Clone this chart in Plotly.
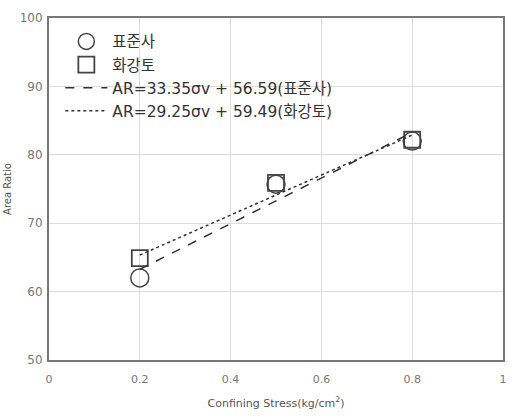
import plotly.graph_objects as go

x_pts = [0.2, 0.5, 0.8]
sand_std = [62.0, 75.7, 82.0]      # 표준사
granite_soil = [64.9, 75.9, 82.2]  # 화강토

fit_x = [0.2, 0.8]
fit_std = [63.26, 83.27]     # AR=33.35σv + 56.59
fit_gran = [65.34, 82.89]    # AR=29.25σv + 59.49

x_ticks = [0, 0.2, 0.4, 0.6, 0.8, 1]
x_tick_text = ["0", "0.2", "0.4", "0.6", "0.8", "1"]
y_ticks = [50, 60, 70, 80, 90, 100]

font_fam = "DejaVu Sans, Noto Sans CJK KR, sans-serif"

fig = go.Figure()
fig.add_trace(go.Scatter(x=x_pts, y=sand_std, mode="markers", name="표준사",
                         marker=dict(symbol="circle-open", size=18, color="#444",
                                     line=dict(width=1.5, color="#444"))))
fig.add_trace(go.Scatter(x=x_pts, y=granite_soil, mode="markers", name="화강토",
                         marker=dict(symbol="square-open", size=16, color="#444",
                                     line=dict(width=1.8, color="#444"))))
fig.add_trace(go.Scatter(x=fit_x, y=fit_std, mode="lines",
                         name="AR=33.35σv + 56.59(표준사)",
                         line=dict(dash="dash", color="#333", width=1.5)))
fig.add_trace(go.Scatter(x=fit_x, y=fit_gran, mode="lines",
                         name="AR=29.25σv + 59.49(화강토)",
                         line=dict(dash="dot", color="#333", width=1.5)))

fig.update_layout(
    width=514, height=419,
    margin=dict(l=48, r=7, t=18, b=59),
    paper_bgcolor="white", plot_bgcolor="white",
    font=dict(family=font_fam, color="#555", size=11),
    showlegend=True,
    legend=dict(x=0.025, y=0.98, xanchor="left", yanchor="top",
                bgcolor="rgba(0,0,0,0)", font=dict(size=15.5, color="#333"),
                itemwidth=42, tracegroupgap=0),
    xaxis=dict(range=[0, 1], tickvals=x_ticks, ticktext=x_tick_text,
               showgrid=True, gridcolor="#ddd", gridwidth=1,
               showline=True, linecolor="#777", linewidth=2, mirror=True,
               zeroline=False, ticks="", ticklabelstandoff=8,
               tickfont=dict(size=11, color="#777"),
               title=dict(text="Confining Stress(kg/cm<sup>2</sup>)", standoff=14,
                          font=dict(size=11, color="#555"))),
    yaxis=dict(range=[50, 100], tickvals=y_ticks,
               showgrid=True, gridcolor="#ddd", gridwidth=1,
               showline=True, linecolor="#777", linewidth=2, mirror=True,
               zeroline=False, ticks="", ticklabelstandoff=2,
               tickfont=dict(size=12, color="#777"),
               title=dict(text="Area Ratio", standoff=6,
                          font=dict(size=10, color="#555"))),
)

fig.write_html("out.html")
